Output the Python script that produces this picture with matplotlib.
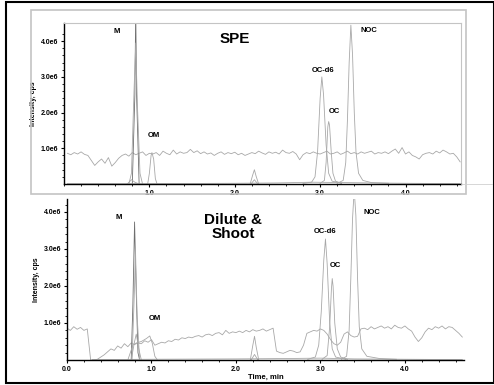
"""
Two stacked LC-MS/MS chromatograms (SPE vs. Dilute & Shoot), redrawn as a PNG.

Run with:   python plot.py   -> out.png
"""

import numpy as np
import matplotlib
matplotlib.use("Agg")
import matplotlib.pyplot as plt
from matplotlib.patches import Rectangle
from matplotlib.lines import Line2D

W, H = 494, 385  # output size in pixels (dpi 100)

TRACE = "#a8a8a8"
TRACE_DARK = "#6e6e6e"
FRAME = "#c4c4c4"

plt.rcParams["font.family"] = ["Liberation Sans", "DejaVu Sans"]

# ---- SPE panel (intensities in units of 1e6 cps) ----
spe_noise = [
    0.86, 0.82, 0.88, 0.84, 0.90, 0.83, 0.80,
    0.66, 0.52, 0.62, 0.70, 0.58, 0.74, 0.50, 0.60,
    0.72, 0.80, 0.84, 0.78, 0.88, 0.82, 0.86, 0.90, 0.80, 0.86,
    0.84, 0.88, 0.80, 0.92, 0.86, 0.82, 0.95, 0.84, 0.90, 0.86, 0.88, 0.97,
    0.88, 0.93, 0.85, 0.90, 0.84, 0.87, 0.80, 0.86, 0.90, 0.83, 0.88, 0.85, 0.89,
    0.82, 0.86, 0.80, 0.84, 0.88, 0.85, 0.92, 0.87, 0.83, 0.90, 0.86, 0.89,
    0.84, 0.95, 0.88, 0.86, 0.91, 0.84, 0.68, 0.82, 0.88, 0.85, 0.90, 0.86, 0.84,
    0.88, 0.92, 0.84, 0.86, 0.90, 0.83, 0.87, 0.92, 0.85, 0.88, 0.84, 0.90,
    0.86, 0.89, 0.92, 0.84, 0.88, 0.86, 0.90, 0.85, 0.92, 0.98, 0.86, 1.02, 0.84,
    0.90, 0.80, 0.76, 0.70, 0.82, 0.86, 0.88, 0.84, 0.92, 0.87, 0.95, 0.90, 0.84, 0.86, 0.76, 0.62,
]
spe_noise_start, spe_noise_end = 0.04, 4.64

spe_peaks = {
    "M_dark": ([0.80, 0.83, 0.84, 0.85, 0.88], [0, 2.5, 4.9, 2.5, 0]),
    "M": ([0.76, 0.79, 0.82, 0.84, 0.86, 0.89, 0.92], [0, 0.3, 2.6, 3.95, 2.2, 0.3, 0]),
    "M_small": ([0.74, 0.79, 0.83, 0.88], [0, 0.12, 0.05, 0]),
    "OM": ([0.98, 1.00, 1.02, 1.03, 1.05, 1.07, 1.09], [0, 0.3, 0.8, 0.88, 0.7, 0.15, 0]),
    "x1": ([2.18, 2.21, 2.23, 2.25, 2.28], [0, 0.25, 0.40, 0.22, 0]),
    "x2": ([2.19, 2.23, 2.27], [0, 0.12, 0]),
    "OC-d6": ([2.80, 2.90, 2.94, 2.97, 3.00, 3.02, 3.04, 3.07, 3.10, 3.14, 3.25],
              [0.02, 0.05, 0.2, 0.9, 2.4, 3.0, 2.5, 1.1, 0.3, 0.08, 0.02]),
    "OC": ([3.00, 3.05, 3.07, 3.09, 3.10, 3.11, 3.13, 3.15, 3.18, 3.25],
           [0.02, 0.1, 0.6, 1.6, 1.75, 1.65, 0.9, 0.3, 0.08, 0.02]),
    "NOC": ([3.20, 3.27, 3.30, 3.32, 3.34, 3.36, 3.38, 3.40, 3.42, 3.45, 3.50, 3.60, 3.80],
            [0.02, 0.1, 0.6, 1.8, 3.4, 4.45, 3.6, 2.0, 0.9, 0.3, 0.1, 0.04, 0.02]),
    "base": ([0.04, 1.0, 2.0, 2.5, 2.9, 3.3, 3.6, 4.0, 4.64],
             [0.01, 0.01, 0.02, 0.03, 0.05, 0.04, 0.03, 0.02, 0.01]),
}
spe_labels = [("M", 0.62, 4.26), ("OM", 1.05, 1.37), ("OC-d6", 3.03, 3.19),
              ("OC", 3.17, 2.04), ("NOC", 3.57, 4.31)]

# ---- Dilute & Shoot panel ----
ds_noise = [
    0.86, 0.80, 0.90, 0.83, 0.88, 0.80, 0.84,
    0.0, 0.0, 0.02,
    0.08, 0.14, 0.22, 0.30, 0.26, 0.38, 0.32, 0.44, 0.36, 0.46,
    0.42, 0.46, 0.44, 0.52, 0.48, 0.55,
    0.40, 0.44, 0.48, 0.46, 0.52, 0.50, 0.56, 0.54, 0.60, 0.58, 0.62, 0.60,
    0.64, 0.66, 0.62, 0.68, 0.70, 0.66, 0.72, 0.74, 0.68, 0.80, 0.72, 0.76, 0.74,
    0.78, 0.74, 0.80, 0.76, 0.82, 0.78, 0.80, 0.84, 0.78, 0.82, 0.86, 0.24,
    0.20, 0.18, 0.22, 0.26, 0.24, 0.20, 0.22,
    0.40, 0.72, 0.76, 0.80, 0.78, 0.84,
    0.80, 0.70, 0.55, 0.44, 0.40, 0.48, 0.70, 0.76, 0.66, 0.62, 0.64, 0.84,
    0.86, 0.82, 0.90, 0.84, 0.88, 0.92, 0.86, 0.90, 0.84, 0.94, 0.88, 0.86, 0.92,
    0.84, 0.78, 0.62, 0.50, 0.60, 0.76, 0.86, 0.82, 0.90, 0.86, 0.92, 0.84, 0.90, 0.88, 0.80, 0.72, 0.62,
]
ds_noise_start, ds_noise_end = 0.0, 4.68

ds_peaks = {
    "M_dark": ([0.76, 0.78, 0.80, 0.82, 0.84, 0.86], [0, 1.5, 3.73, 1.8, 0.2, 0]),
    "M": ([0.77, 0.80, 0.81, 0.83, 0.86], [0, 2.0, 3.05, 1.2, 0]),
    "M_small": ([0.76, 0.80, 0.82, 0.85, 0.88], [0, 0.5, 0.7, 0.3, 0]),
    "OM": ([0.72, 0.78, 0.82, 0.88, 0.94, 0.98, 1.01, 1.04, 1.07],
           [0, 0.40, 0.46, 0.50, 0.58, 0.65, 0.45, 0.1, 0]),
    "x1": ([2.17, 2.20, 2.22, 2.24, 2.27], [0, 0.4, 0.64, 0.35, 0]),
    "x2": ([2.18, 2.22, 2.26], [0, 0.15, 0]),
    "OC-d6": ([2.85, 2.94, 2.98, 3.01, 3.04, 3.06, 3.08, 3.11, 3.14, 3.18, 3.30],
              [0.02, 0.08, 0.4, 1.3, 2.7, 3.27, 2.6, 1.0, 0.3, 0.08, 0.02]),
    "OC": ([3.02, 3.08, 3.11, 3.13, 3.14, 3.15, 3.17, 3.20, 3.24, 3.32],
           [0.02, 0.12, 0.9, 1.9, 2.2, 2.0, 1.0, 0.3, 0.08, 0.02]),
    "NOC": ([3.25, 3.31, 3.34, 3.36, 3.38, 3.40, 3.42, 3.44, 3.46, 3.49, 3.55, 3.70, 3.90],
            [0.02, 0.1, 0.8, 2.2, 3.8, 4.6, 3.9, 2.2, 0.9, 0.3, 0.1, 0.04, 0.02]),
    "base": ([0.3, 1.0, 2.0, 2.6, 3.0, 3.4, 4.0, 4.68],
             [0.01, 0.02, 0.03, 0.04, 0.05, 0.03, 0.02, 0.01]),
}
ds_labels = [("M", 0.61, 3.85), ("OM", 1.04, 1.11), ("OC-d6", 3.05, 3.47),
             ("OC", 3.18, 2.55), ("NOC", 3.61, 3.99)]

y_ticks = [1, 2, 3, 4]
y_tick_labels = ["1.0e6", "2.0e6", "3.0e6", "4.0e6"]


def px_axes(fig, left, top, right, bottom):
    """Axes placed by pixel edges (y counted from the top)."""
    return fig.add_axes([left / W, 1 - bottom / H, (right - left) / W, (bottom - top) / H])


def style_axes(ax, xlim, ylim, x_ticks):
    ax.set_xlim(*xlim)
    ax.set_ylim(*ylim)
    ax.set_xticks(x_ticks)
    ax.set_xticklabels([f"{t:.1f}" for t in x_ticks])
    ax.set_xticks(np.arange(0, 4.8, 0.2), minor=True)
    ax.set_yticks(y_ticks)
    ax.set_yticklabels(y_tick_labels)
    ax.set_yticks(np.arange(0.2, 4.4, 0.2), minor=True)
    ax.tick_params(which="major", length=2.5, width=0.8, labelsize=5, pad=1.5)
    ax.tick_params(which="minor", length=1.5, width=0.6)
    for lab in ax.get_xticklabels() + ax.get_yticklabels():
        lab.set_fontweight("bold")
    for side in ("left", "bottom"):
        ax.spines[side].set_linewidth(1.0)
    ax.set_ylabel("Intensity, cps", fontsize=5, fontweight="bold", labelpad=3)


def draw_traces(ax, noise, start, end, peaks, labels):
    ax.plot(np.linspace(start, end, len(noise)), noise, color=TRACE, lw=0.6)
    for name, (t, v) in peaks.items():
        color = TRACE_DARK if name == "M_dark" else TRACE
        ax.plot(t, v, color=color, lw=0.6)
    for text, t, v in labels:
        ax.text(t, v, text, fontsize=5.5, fontweight="bold", ha="center", va="center")


fig = plt.figure(figsize=(W / 100, H / 100), dpi=100)
fig.patch.set_facecolor("white")

# outer black frame and light grey frame round the top panel
fig.add_artist(Rectangle((6 / W, 2 / H), 488 / W, 381 / H, transform=fig.transFigure,
                         fill=False, edgecolor="black", lw=1.5))
fig.add_artist(Rectangle((31 / W, 1 - 194 / H), 435 / W, 184 / H, transform=fig.transFigure,
                         fill=False, edgecolor=FRAME, lw=1.2))

# top panel: SPE
ax1 = px_axes(fig, 64, 23, 461, 184)
style_axes(ax1, (0.035, 4.65), (0, 4.51), [1.0, 2.0, 3.0, 4.0])
for side in ("top", "right"):
    ax1.spines[side].set_color(FRAME)
    ax1.spines[side].set_linewidth(0.8)
draw_traces(ax1, spe_noise, spe_noise_start, spe_noise_end, spe_peaks, spe_labels)
ax1.text(2.0, 4.06, "SPE", fontsize=11, fontweight="bold", ha="center", va="center")
fig.add_artist(Line2D([461 / W, 492 / W], [1 - 184 / H] * 2, color="#d0d0d0", lw=0.6))

# bottom panel: Dilute & Shoot
ax2 = px_axes(fig, 67, 199, 464, 360)
style_axes(ax2, (0.0, 4.7), (0, 4.35), [0.0, 1.0, 2.0, 3.0, 4.0])
for side in ("top", "right"):
    ax2.spines[side].set_visible(False)
draw_traces(ax2, ds_noise, ds_noise_start, ds_noise_end, ds_peaks, ds_labels)
ax2.text(1.97, 3.6, "Dilute &\nShoot", fontsize=11, fontweight="bold",
         ha="center", va="center", linespacing=1.0)
ax2.set_xlabel("Time, min", fontsize=5.5, fontweight="bold", labelpad=1)

fig.savefig("out.png", dpi=100, facecolor="white")
